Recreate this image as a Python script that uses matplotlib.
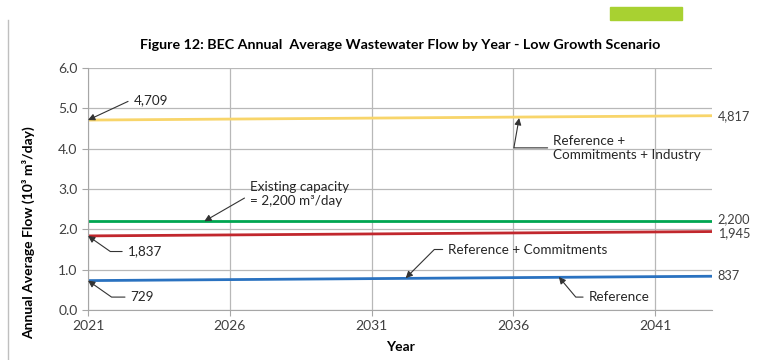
import matplotlib.pyplot as plt
from matplotlib.patches import Rectangle
from matplotlib.lines import Line2D

plt.rcParams['font.family'] = ['Lato', 'DejaVu Sans']

# data (flows in thousand m3/day)
years = [2021, 2043]
reference = [0.729, 0.837]
ref_commit = [1.837, 1.945]
ref_commit_ind = [4.709, 4.817]
capacity = [2.200, 2.200]

x_ticks = [2021, 2026, 2031, 2036, 2041]
y_ticks = [0.0, 1.0, 2.0, 3.0, 4.0, 5.0, 6.0]

fig = plt.figure(figsize=(7.83, 3.6), dpi=100)
ax = fig.add_axes([88 / 783, 1 - 310 / 360, 624 / 783, 242 / 360])

ax.plot(years, ref_commit_ind, color='#F8D56A', lw=2)
ax.plot(years, capacity, color='#00A651', lw=2)
ax.plot(years, ref_commit, color='#C1272D', lw=2)
ax.plot(years, reference, color='#2A72C0', lw=2)

ax.set_xlim(2021, 2043)
ax.set_ylim(0, 6)
ax.set_xticks(x_ticks)
ax.set_yticks(y_ticks)
ax.set_yticklabels([f'{v:.1f}' for v in y_ticks])
ax.grid(True, color='#B8B8B8', lw=0.9)
ax.set_axisbelow(True)
for s in ['top', 'right']:
    ax.spines[s].set_visible(False)
for s in ['left', 'bottom']:
    ax.spines[s].set_color('#A6A6A6')
ax.tick_params(colors='#A6A6A6', labelcolor='#404040', labelsize=10, length=4)

ax.set_title('Figure 12: BEC Annual  Average Wastewater Flow by Year - Low Growth Scenario',
             fontsize=10.3, fontweight='bold', pad=14)
ax.set_xlabel('Year', fontsize=10, fontweight='bold', labelpad=6)
ax.set_ylabel('Annual Average Flow (10³ m³/day)', fontsize=10, fontweight='bold')
ax.yaxis.set_label_coords(-0.085, 0.32)

# labels at the right end (small nudges keep 2,200 and 1,945 apart)
for val, dy in [(ref_commit_ind[-1], 0), (capacity[-1], 0.05), (ref_commit[-1], -0.05), (reference[-1], 0)]:
    ax.text(2043.2, val + dy, f'{val * 1000:,.0f}', fontsize=9.2, color='#404040', va='center')

arrow = dict(arrowstyle='-|>', color='#333333', lw=0.8, mutation_scale=10, shrinkA=2, shrinkB=0)

def note(text, xy, xytext, angle_b):
    props = dict(arrow, connectionstyle=f'angle,angleA=0,angleB={angle_b},rad=0')
    ax.annotate(text, xy=xy, xytext=xytext, ha='left', va='center', fontsize=9.7, color='#262626',
                arrowprops=props)

note('4,709', (years[0], ref_commit_ind[0]), (2022.6, 5.2), 25)
note('1,837', (years[0], ref_commit[0]), (2022.4, 1.45), -35)
note('729', (years[0], reference[0]), (2022.5, 0.32), -35)
note('Existing capacity\n= 2,200 m³/day', (2025.1, capacity[0]), (2026.7, 2.87), 30)
note('Reference + Commitments', (2032.2, 0.79), (2033.7, 1.5), 45)
note('Reference', (2037.6, 0.82), (2038.65, 0.32), -50)
note('Reference +\nCommitments + Industry', (2036.2, 4.76), (2037.4, 4.02), 80)

# page decorations
fig.add_artist(Line2D([8 / 783, 8 / 783], [0, 1 - 20 / 360], color='#BFBFBF', lw=1))
fig.add_artist(Rectangle((610 / 783, 1 - 20 / 360), 72 / 783, 13 / 360, color='#A8D131'))

fig.savefig('out.png', dpi=100)
